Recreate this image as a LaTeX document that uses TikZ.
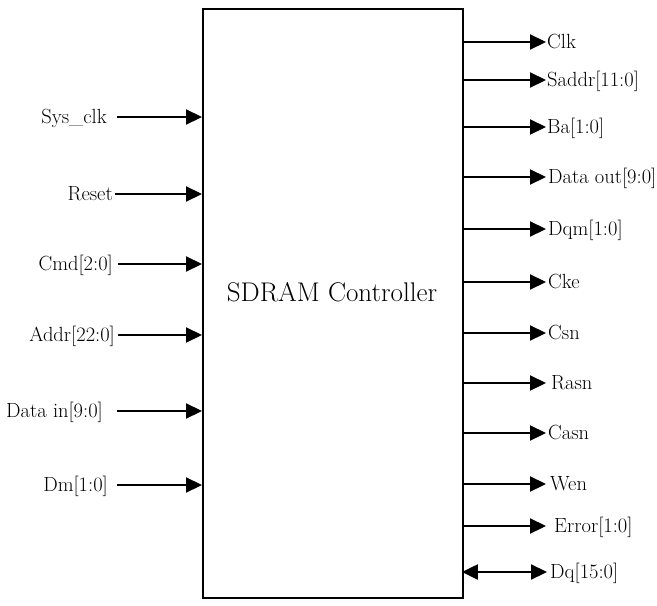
\documentclass[tikz,border=0pt]{standalone}
\usetikzlibrary{arrows.meta}
\begin{document}
\begin{tikzpicture}[x=1pt,y=-1pt,
  sig/.style={line width=2.2pt,-{Triangle[length=16pt,width=15pt]}},
  bisig/.style={line width=2.2pt,{Triangle[length=16pt,width=15pt]}-{Triangle[length=16pt,width=15pt]}},
  lbl/.style={inner sep=0pt,font=\fontsize{20.5}{23}\selectfont},
  pin/.style={inner sep=0pt,minimum size=0pt}]
\useasboundingbox (0,0) rectangle (657,606);
\node[draw,line width=2.4pt,minimum width=260pt,minimum height=589pt,inner sep=0pt,anchor=north west] (box) at (202,8) {};
\node[font=\fontsize{27}{30}\selectfont,anchor=base] (title) at (332,301) {SDRAM Controller};
% inputs
\foreach \nm/\txt/\y/\lx/\ax in {sys/Sys\_clk/117/107/117, rst/Reset/194/113/115, cmd/Cmd[2:0]/264/113/118, addr/Addr[22:0]/335/115/118, din/Data in[9:0]/411/103/117, dm/Dm[1:0]/485/108/117}{
  \node[lbl,anchor=base east] (l\nm) at (\lx,\y+6.5) {\txt};
  \coordinate (s\nm) at (\ax,\y);
  \coordinate (e\nm) at (box.west |- s\nm);
  \draw[sig] (s\nm) -- (e\nm);
}
% outputs
\foreach \nm/\txt/\y/\lx in {clk/Clk/42/547, saddr/Saddr[11:0]/80/547, ba/Ba[1:0]/127/547, dout/Data out[9:0]/177/548, dqm/Dqm[1:0]/229/548, cke/Cke/282/548, csn/Csn/333/548, rasn/Rasn/383/551, casn/Casn/433/548, wen/Wen/484/550, err/Error[1:0]/526/554}{
  \coordinate (t\nm) at (546,\y);
  \coordinate (b\nm) at (box.east |- t\nm);
  \draw[sig] (b\nm) -- (t\nm);
  \node[lbl,anchor=base west] (l\nm) at (\lx,\y+6.5) {\txt};
}
\coordinate (tdq) at (547,572);
\coordinate (bdq) at (box.east |- tdq);
\draw[bisig,shorten <=-2.5pt] (bdq) -- (tdq);
\node[lbl,anchor=base west] (ldq) at (550,578.5) {Dq[15:0]};
\end{tikzpicture}
\end{document}
